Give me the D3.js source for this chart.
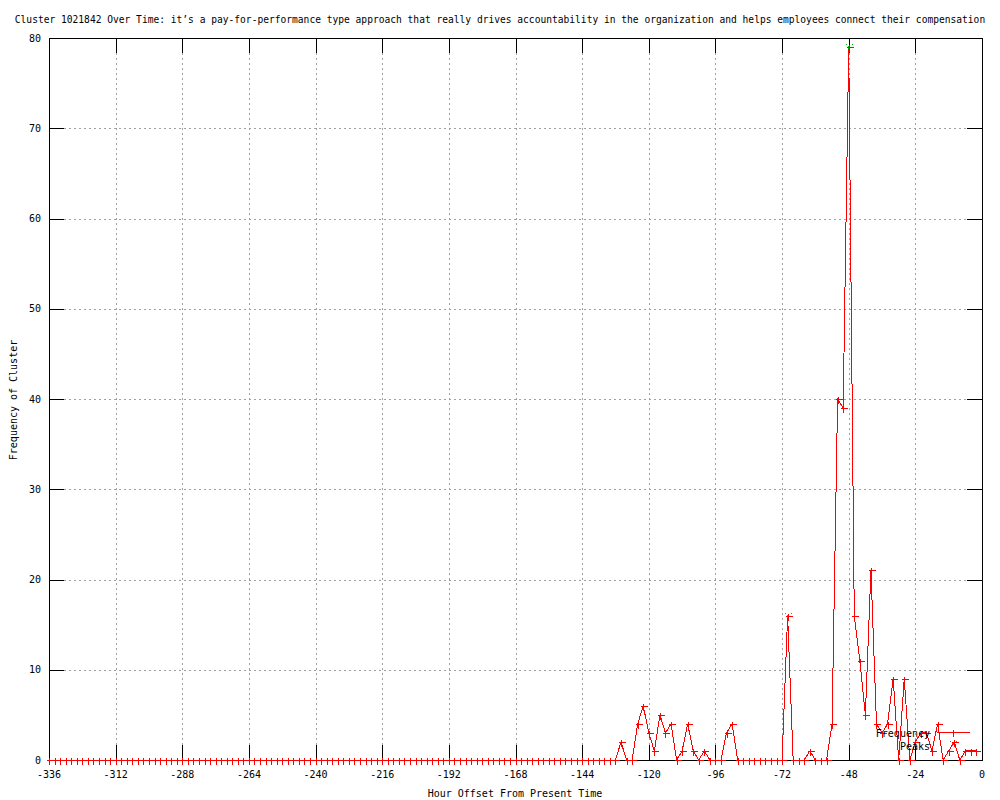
<!DOCTYPE html>
<html>
<head>
<meta charset="utf-8">
<script src="https://cdn.jsdelivr.net/npm/d3@7"></script>
<style>
  html, body { margin: 0; padding: 0; background: #fff; }
  svg { display: block; }
  text { font-family: "DejaVu Sans Mono", "Liberation Mono", monospace; font-size: 10px; fill: #000; }
</style>
</head>
<body>
<svg id="chart" width="1000" height="800"></svg>
<script>
// ---- data ----
const titleText = "Cluster 1021842 Over Time: it’s a pay-for-performance type approach that really drives accountability in the organization and helps employees connect their compensation";
const xLabel = "Hour Offset From Present Time";
const yLabel = "Frequency of Cluster";
const seriesNames = ["Frequency", "Peaks"];

const hours = [
  -336,-334,-332,-330,-328,-326,-324,-322,-320,-318,-316,-314,-312,-310,-308,-306,-304,-302,-300,-298,
  -296,-294,-292,-290,-288,-286,-284,-282,-280,-278,-276,-274,-272,-270,-268,-266,-264,-262,-260,-258,
  -256,-254,-252,-250,-248,-246,-244,-242,-240,-238,-236,-234,-232,-230,-228,-226,-224,-222,-220,-218,
  -216,-214,-212,-210,-208,-206,-204,-202,-200,-198,-196,-194,-192,-190,-188,-186,-184,-182,-180,-178,
  -176,-174,-172,-170,-168,-166,-164,-162,-160,-158,-156,-154,-152,-150,-148,-146,-144,-142,-140,-138,
  -136,-134,-132,-130,-128,-126,-124,-122,-120,-118,-116,-114,-112,-110,-108,-106,-104,-102,-100,-98,
  -96,-94,-92,-90,-88,-86,-84,-82,-80,-78,-76,-74,-72,-70,-68,-66,-64,-62,-60,-58,
  -56,-54,-52,-50,-48,-46,-44,-42,-40,-38,-36,-34,-32,-30,-28,-26,-24,-22,-20,-18,
  -16,-14,-12,-10,-8,-6,-4,-2
];
const frequency = [
  0,0,0,0,0,0,0,0,0,0,0,0,0,0,0,0,0,0,0,0,
  0,0,0,0,0,0,0,0,0,0,0,0,0,0,0,0,0,0,0,0,
  0,0,0,0,0,0,0,0,0,0,0,0,0,0,0,0,0,0,0,0,
  0,0,0,0,0,0,0,0,0,0,0,0,0,0,0,0,0,0,0,0,
  0,0,0,0,0,0,0,0,0,0,0,0,0,0,0,0,0,0,0,0,
  0,0,0,2,0,0,4,6,3,1,5,3,4,0,1,4,1,0,1,0,
  0,0,3,4,0,0,0,0,0,0,0,0,0,16,0,0,0,1,0,0,
  0,4,40,39,79,16,11,5,21,4,3,4,9,0,9,0,2,3,3,1,
  4,0,1,2,0,1,1,1
];
const peakHours = [-70, -48];
const peakValues = [16, 79];

const xTicks = [-336,-312,-288,-264,-240,-216,-192,-168,-144,-120,-96,-72,-48,-24,0];
const yTicks = [0,10,20,30,40,50,60,70,80];

// ---- layout ----
const svg = d3.select("#chart");
const L = 49, R = 982, T = 38, B = 760;
const x = d3.scaleLinear().domain([-336, 0]).range([L, R]);
const y = d3.scaleLinear().domain([0, 80]).range([B, T]);
const px = v => Math.round(v) + 0.5;
const TICK = 15;

// grid
const grid = svg.append("g").attr("stroke", "#a0a0a0").attr("stroke-dasharray", "2,3")
  .attr("shape-rendering", "crispEdges");
xTicks.filter(t => t > -336 && t < 0).forEach(t => {
  grid.append("line").attr("x1", px(x(t))).attr("x2", px(x(t))).attr("y1", T).attr("y2", B);
});
yTicks.filter(t => t > 0 && t < 80).forEach(t => {
  grid.append("line").attr("x1", L).attr("x2", R).attr("y1", px(y(t))).attr("y2", px(y(t)));
});

// ticks (mirrored)
const ticks = svg.append("g").attr("stroke", "#000").attr("shape-rendering", "crispEdges");
xTicks.forEach(t => {
  const xx = px(x(t));
  ticks.append("line").attr("x1", xx).attr("x2", xx).attr("y1", B).attr("y2", B - TICK);
  ticks.append("line").attr("x1", xx).attr("x2", xx).attr("y1", T).attr("y2", T + TICK);
});
yTicks.forEach(t => {
  const yy = px(y(t));
  ticks.append("line").attr("x1", L).attr("x2", L + TICK).attr("y1", yy).attr("y2", yy);
  ticks.append("line").attr("x1", R).attr("x2", R - TICK).attr("y1", yy).attr("y2", yy);
});

// tick labels
svg.append("g").selectAll("text").data(xTicks).join("text")
  .attr("x", d => x(d)).attr("y", 778).attr("text-anchor", "middle")
  .text(d => String(d));
svg.append("g").selectAll("text").data(yTicks).join("text")
  .attr("x", 41).attr("y", d => y(d)).attr("text-anchor", "end")
  .attr("dominant-baseline", "central")
  .text(d => String(d));

// border
svg.append("rect").attr("x", L + 0.5).attr("y", T + 0.5).attr("width", R - L).attr("height", B - T)
  .attr("fill", "none").attr("stroke", "#000").attr("shape-rendering", "crispEdges");

// data
const data = hours.map((h, i) => ({h, v: frequency[i]}));
const peaks = peakHours.map((h, i) => ({h, v: peakValues[i]}));

const plot = svg.append("g");
plot.append("path").datum(data)
  .attr("fill", "none").attr("stroke", "#ff0000").attr("stroke-width", 1)
  .attr("shape-rendering", "crispEdges")
  .attr("d", d3.line().x(d => x(d.h)).y(d => y(d.v)));

const plusPath = (cx, cy) => `M${cx - 3},${cy}H${cx + 4}M${cx},${cy - 3}V${cy + 4}`;
const crossPath = (cx, cy) => `M${cx - 3},${cy - 3}L${cx + 3},${cy + 3}M${cx - 3},${cy + 3}L${cx + 3},${cy - 3}`;

// peaks (green x)
plot.append("g").selectAll("path").data(peaks).join("path")
  .attr("fill", "none").attr("stroke", "#00c000").attr("stroke-dasharray", "1,1")
  .attr("shape-rendering", "crispEdges")
  .attr("d", d => crossPath(Math.round(x(d.h)) + 0.5, Math.round(y(d.v)) + 0.5));

// frequency markers (+)
plot.append("g").selectAll("path").data(data).join("path")
  .attr("fill", "none").attr("stroke", "#ff0000")
  .attr("shape-rendering", "crispEdges")
  .attr("d", d => plusPath(Math.round(x(d.h)) + 0.5, Math.round(y(d.v)) + 0.5));

// legend
const leg = svg.append("g");
leg.append("text").attr("x", 930).attr("y", 733).attr("text-anchor", "end")
  .attr("dominant-baseline", "central").text(seriesNames[0]);
leg.append("text").attr("x", 930).attr("y", 746).attr("text-anchor", "end")
  .attr("dominant-baseline", "central").text(seriesNames[1]);
leg.append("line").attr("x1", 937).attr("x2", 970).attr("y1", 732.5).attr("y2", 732.5)
  .attr("stroke", "#ff0000").attr("shape-rendering", "crispEdges");
leg.append("path").attr("fill", "none").attr("stroke", "#ff0000").attr("shape-rendering", "crispEdges")
  .attr("d", plusPath(953.5, 732.5));
leg.append("path").attr("fill", "none").attr("stroke", "#00c000").attr("stroke-dasharray", "1,1")
  .attr("shape-rendering", "crispEdges")
  .attr("d", crossPath(953.5, 744.5));

// titles
svg.append("text").attr("x", 500).attr("y", 23).attr("text-anchor", "middle")
  .style("font-size", "9.6px")
  .text(titleText);
svg.append("text").attr("x", 515).attr("y", 797).attr("text-anchor", "middle").text(xLabel);
svg.append("text").attr("transform", "translate(13,400) rotate(-90)")
  .attr("text-anchor", "middle").attr("dominant-baseline", "central").text(yLabel);
</script>
</body>
</html>
